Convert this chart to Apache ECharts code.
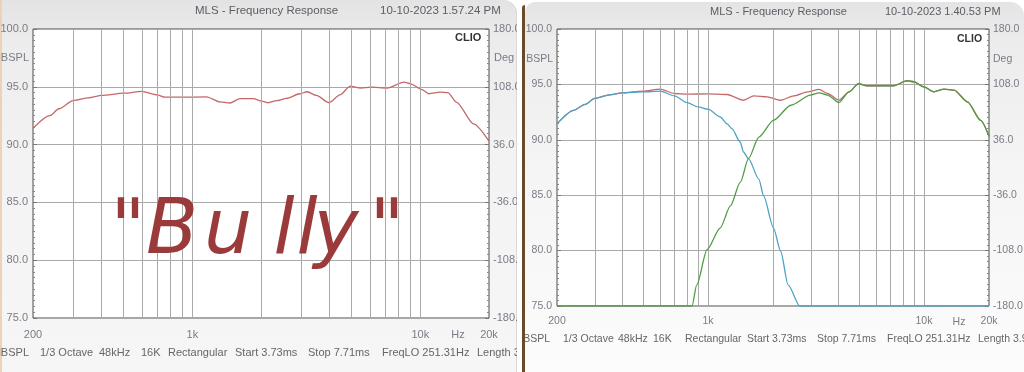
<!DOCTYPE html>
<html><head><meta charset="utf-8">
<script src="https://cdn.jsdelivr.net/npm/echarts@6/dist/echarts.min.js"></script>
<style>
html,body{margin:0;padding:0;width:1024px;height:372px;overflow:hidden;background:#fff;}
#p1{position:absolute;left:0;top:0;width:517px;height:372px;border-top-right-radius:14px;
  background:linear-gradient(#e3e3e3 0px,#ececec 40px,#f3f3f3 160px,#f6f6f6 372px);
  box-shadow:inset 2px 0 0 #ecd2b8, inset -1px 0 0 #d8d8d8;}
#sep{position:absolute;left:522px;top:5px;width:3px;height:367px;background:#6b4a2c;border-top-left-radius:4px;}
#p2{position:absolute;left:525px;top:2px;width:499px;height:370px;border-top-right-radius:14px;border-top-left-radius:10px;
  background:linear-gradient(#e4e4e4 0px,#ececec 40px,#f5f5f5 170px,#fcfcfc 372px);}
</style></head><body>
<div id="p1"></div><div id="sep"></div><div id="p2"></div>
<script>
// ---------- data (frequency in Hz, level in dB SPL) ----------
var freqGrid = [300,400,500,600,700,800,900,1000,2000,3000,4000,5000,6000,7000,8000,9000,10000];

var bullyFreq = [200,237,260,300,350,400,500,600,700,760,900,1155,1320,1460,1620,1850,2040,2150,2340,2590,2960,3190,3500,3980,4440,4930,5470,6070,7150,8470,9080,10100,10900,12200,13200,14400,17100,20000];
var bullySpl  = [91.4,92.5,93.1,93.8,94.05,94.25,94.45,94.6,94.3,94.1,94.1,94.13,93.7,93.6,93.97,93.97,93.74,93.62,93.8,94.0,94.4,94.57,94.25,93.62,94.3,95.06,94.89,94.97,94.89,95.4,95.26,94.78,94.4,94.54,94.5,93.68,91.8,90.3];

var sumFreq = [200,239,270,299,350,400,500,600,700,800,1000,1225,1460,1630,1880,2170,2500,2890,3270,3580,4040,4500,4980,5440,7240,8350,8970,9950,11100,12400,13800,15900,18300,20000];
var sumSpl  = [91.45,92.66,93.2,93.73,94.05,94.24,94.4,94.58,94.18,94.12,94.15,94.09,93.57,93.97,93.88,93.57,93.97,94.33,94.55,94.18,93.57,94.33,95.09,94.88,94.88,95.33,95.24,94.79,94.33,94.58,94.48,93.42,91.76,90.33];

var wooferFreq = [200,239,270,299,350,400,500,600,700,800,900,1000,1140,1225,1290,1410,1460,1540,1720,1810,2010,2170,2350,2660,20000];
var wooferSpl  = [91.45,92.66,93.2,93.73,94.05,94.24,94.33,94.39,93.97,93.36,92.97,92.76,92.06,91.45,91.0,89.8,88.9,88.3,86.45,84.94,82.06,79.94,76.9,75,75];

var tweeterFreq = [200,844,887,990,1140,1270,1410,1540,1720,2010,2420,2980,3270,3580,4040,4500,4980,5440,7240,8350,8970,9950,11100,12400,13800,15900,18300,20000];
var tweeterSpl  = [75,75,76.9,80.09,82.06,84.03,86.15,88.3,90.24,91.76,93.12,94.03,94.24,94.03,93.36,94.33,95.05,94.88,94.88,95.33,95.24,94.79,94.33,94.58,94.48,93.42,91.76,90.33];

var splTicks = {min:75, max:100, interval:5};
var degTicks = {min:-180, max:180};

function pairs(f, v){ return f.map(function(x,i){ return [x, v[i]]; }); }

var FONT = 'Liberation Sans';
var LBL = '#7b7b87';

function build(el, g, series, texts, fs){
  var chart = echarts.init(document.getElementById(el), null, {renderer:'canvas'});
  var degSpan = degTicks.max - degTicks.min;
  var s = [{
    type:'line', data:[], z:1, silent:true, animation:false,
    markLine:{silent:true, symbol:['none','none'], label:{show:false}, animation:false,
      lineStyle:{color:'#a9a9a9', width:1, type:'solid'},
      data: freqGrid.map(function(f){ return {xAxis:f}; })}
  }];
  series.forEach(function(sr){
    s.push({type:'line', data:pairs(sr.f, sr.v), showSymbol:false, smooth:0.25, smoothMonotone:'x',
      z:3+s.length, lineStyle:{color:sr.c, width:1.3}, itemStyle:{color:sr.c}, animation:false, silent:true});
  });
  chart.setOption({
    animation:false,
    grid:{left:g.left, top:g.top, width:g.width, height:g.height, show:true, backgroundColor:'#fff',
      borderColor:'#4a4a4a', borderWidth:1, containLabel:false, outerBoundsMode:'none'},
    xAxis:{type:'log', logBase:10, min:200, max:20000,
      axisLine:{show:false}, axisTick:{show:false}, splitLine:{show:false},
      axisLabel:{color:LBL, fontFamily:FONT, fontSize:fs, margin:g.xm, showMinLabel:true, showMaxLabel:true, hideOverlap:false,
        formatter:function(v){ return v>=1000 ? (v/1000)+'k' : String(v); }}},
    yAxis:[{type:'value', min:splTicks.min, max:splTicks.max, interval:splTicks.interval, position:'left',
      axisLine:{show:false},
      axisTick:{show:true, inside:true, length:4, lineStyle:{color:'#777'}},
      minorTick:{show:true, splitNumber:10, length:2, lineStyle:{color:'#888'}},
      axisLabel:{color:LBL, fontFamily:FONT, fontSize:fs, margin:5, formatter:function(v){return v.toFixed(1);}},
      splitLine:{show:true, lineStyle:{color:'#a9a9a9', width:1}}},
     {type:'value', min:0, max:degSpan, interval:degSpan/5, position:'right',
      axisLine:{show:false},
      axisTick:{show:true, inside:true, length:4, lineStyle:{color:'#777'}},
      minorTick:{show:true, splitNumber:10, length:2, lineStyle:{color:'#888'}},
      axisLabel:{color:LBL, fontFamily:FONT, fontSize:fs, margin:4, formatter:function(v){return (v+degTicks.min).toFixed(1);}},
      splitLine:{show:false}}],
    series:s,
    graphic: texts
  });
  return chart;
}

function T(x,y,txt,opt){
  opt = opt||{};
  return {type:'text', x:x, y:y, z:50, silent:true, style:{text:txt, fill:opt.fill||'#666',
    font:(opt.weight||'normal')+' '+(opt.size||11)+'px "'+FONT+'"', textAlign:opt.align||'left', textVerticalAlign:'middle'}};
}

// ---- left panel ----
var leftTexts = [
  T(195,11,'MLS - Frequency Response',{size:11.5,fill:'#5c5c64'}),
  T(380,11,'10-10-2023 1.57.24 PM',{size:11.5,fill:'#5c5c64'}),
  T(455,38,'CLIO',{weight:'bold',size:11,fill:'#333'}),
  T(29,58,'BSPL',{align:'right',fill:LBL}),
  T(494,58,'Deg',{fill:LBL}),
  T(458,335,'Hz',{align:'center',fill:LBL}),
  T(29,353,'dBSPL',{align:'right'}),
  T(40,353,'1/3 Octave'), T(99,353,'48kHz'), T(141,353,'16K'), T(168,353,'Rectangular'),
  T(235,353,'Start 3.73ms'), T(308,353,'Stop 7.71ms'), T(382,353,'FreqLO 251.31Hz'), T(477,353,'Length 3.98ms')
];
var bullyGlyphs = [['"',128],['B',172],['u',228],['l',284],['l',307],['y',336],['"',387]];
bullyGlyphs.forEach(function(gl){
  leftTexts.push({type:'text', x:gl[1], y:233, z:60, silent:true,
    style:{text:gl[0], fill:'#9a3a3a', font:'italic 76px "DejaVu Sans"', textAlign:'center', textVerticalAlign:'middle'}});
});
build('p1', {left:33, top:29, width:456, height:289, xm:11},
  [{f:bullyFreq, v:bullySpl, c:'#c46868'}], leftTexts, 11);

// ---- right panel ----
var rightTexts = [
  T(185,10,'MLS - Frequency Response',{size:11,fill:'#5c5c64'}),
  T(360,10,'10-10-2023 1.40.53 PM',{size:11,fill:'#5c5c64'}),
  T(432,37,'CLIO',{weight:'bold',size:10.5,fill:'#333'}),
  T(28,57,'BSPL',{align:'right',fill:LBL,size:10.5}),
  T(468,57,'Deg',{fill:LBL,size:10.5}),
  T(434,320,'Hz',{align:'center',fill:LBL,size:10.5}),
  T(25,337,'dBSPL',{align:'right',size:10.5}),
  T(38,337,'1/3 Octave',{size:10.5}), T(93,337,'48kHz',{size:10.5}), T(128,337,'16K',{size:10.5}),
  T(160,337,'Rectangular',{size:10.5}), T(222,337,'Start 3.73ms',{size:10.5}), T(292,337,'Stop 7.71ms',{size:10.5}),
  T(362,337,'FreqLO 251.31Hz',{size:10.5}), T(453,337,'Length 3.98ms',{size:10.5})
];
build('p2', {left:32, top:27, width:432, height:277, xm:10},
  [{f:sumFreq, v:sumSpl, c:'#c46868'},
   {f:wooferFreq, v:wooferSpl, c:'#4fa2c6'},
   {f:tweeterFreq, v:tweeterSpl, c:'#4f9c44'}], rightTexts, 10.5);
</script>
</body></html>
